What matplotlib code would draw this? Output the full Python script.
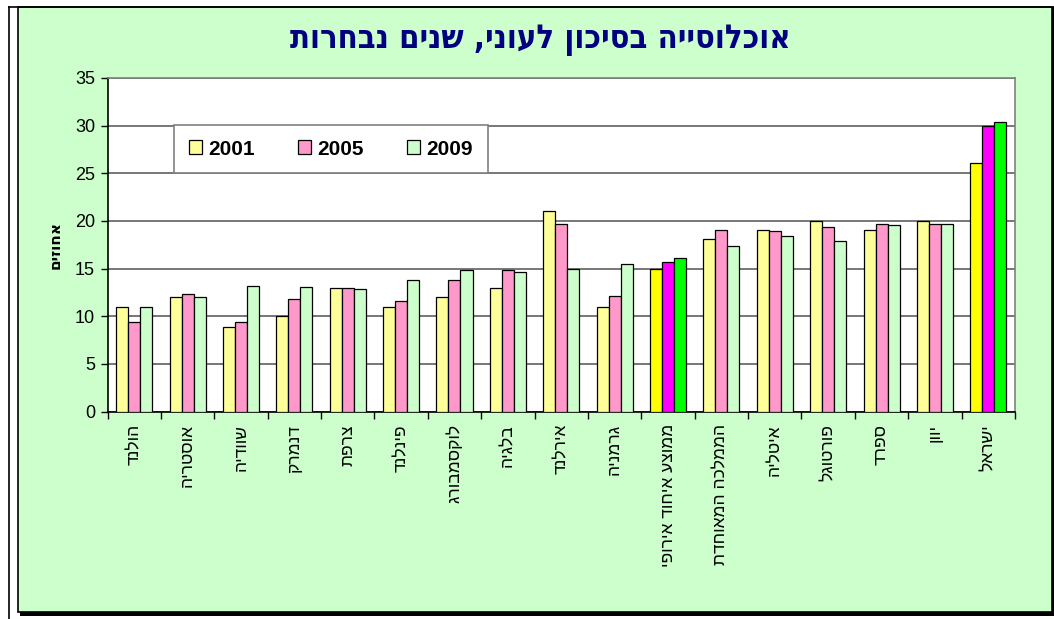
import matplotlib
matplotlib.use("Agg")
import matplotlib.pyplot as plt
from matplotlib.patches import Rectangle, Patch
from matplotlib.lines import Line2D
import numpy as np

plt.rcParams['font.family'] = ['Liberation Sans', 'DejaVu Sans']

title = "אוכלוסייה בסיכון לעוני, שנים נבחרות"
ylabel = "אחוזים"
categories = ["הולנד", "אוסטריה", "שוודיה", "דנמרק", "צרפת", "פינלנד", "לוקסמבורג",
              "בלגיה", "אירלנד", "גרמניה", "ממוצע איחוד אירופי", "הממלכה המאוחדת",
              "איטליה", "פורטוגל", "ספרד", "יוון", "ישראל"]
years = ["2001", "2005", "2009"]
v2001 = [11.0, 12.0, 8.9, 10.0, 13.0, 11.0, 12.0, 13.0, 21.0, 11.0, 15.0, 18.1, 19.1, 20.0, 19.1, 20.0, 26.1]
v2005 = [9.4, 12.3, 9.4, 11.8, 13.0, 11.6, 13.8, 14.9, 19.7, 12.1, 15.7, 19.1, 18.9, 19.4, 19.7, 19.7, 30.0]
v2009 = [11.0, 12.0, 13.2, 13.1, 12.9, 13.8, 14.9, 14.6, 15.0, 15.5, 16.1, 17.4, 18.4, 17.9, 19.6, 19.7, 30.4]
yticks = [0, 5, 10, 15, 20, 25, 30, 35]

def vis(s):
    return s[::-1]

W, H = 1054, 619
fig = plt.figure(figsize=(W / 100, H / 100), dpi=100, facecolor='white')

def fx(x):
    return x / W

def fy(y):
    return 1 - y / H

# frame
fig.patches.append(Rectangle((fx(20), fy(616)), fx(1034), 609 / H, transform=fig.transFigure,
                             facecolor='black', edgecolor='none', zorder=-3))
fig.patches.append(Rectangle((fx(17.5), fy(612)), fx(1034), 605 / H, transform=fig.transFigure,
                             facecolor='#CCFFCC', edgecolor='black', linewidth=1.2, zorder=-2))
fig.lines.append(Line2D([fx(8.5), fx(8.5)], [fy(6.5), fy(619)], transform=fig.transFigure,
                        color='black', linewidth=1.2, zorder=-1))
fig.lines.append(Line2D([fx(8.5), fx(1054)], [fy(6.5), fy(6.5)], transform=fig.transFigure,
                        color='black', linewidth=1.2, zorder=-1))

L, R, T, B = 107.5, 1015, 78, 411.5
ax = fig.add_axes([fx(L), fy(B), fx(R - L), (B - T) / H])
ax.set_facecolor('white')

base_colors = ['#FFFF99', '#FF99CC', '#CCFFCC']
hi_colors = ['#FFFF00', '#FF00FF', '#00FF00']
highlight = {"ממוצע איחוד אירופי", "ישראל"}

x = np.arange(len(categories))
w = 0.225
for k, vals in enumerate([v2001, v2005, v2009]):
    cols = [hi_colors[k] if c in highlight else base_colors[k] for c in categories]
    ax.bar(x + (k - 1) * w, vals, width=w, color=cols, edgecolor='black', linewidth=0.9, zorder=3)

ax.set_xlim(-0.5, len(categories) - 0.5)
ax.set_ylim(0, 35)
ax.set_yticks(yticks)
ax.set_yticklabels([str(t) for t in yticks], fontsize=13)
ax.yaxis.grid(True, color='#606060', linewidth=1.2, zorder=0)
ax.set_axisbelow(True)

ax.set_xticks(x)
ax.set_xticklabels([vis(c) for c in categories], rotation=90, fontsize=12.5, va='top', ha='center')
ax.tick_params(axis='x', which='major', length=0, pad=9)
ax.set_xticks(np.arange(len(categories) + 1) - 0.5, minor=True)
ax.tick_params(axis='x', which='minor', length=5, width=1, direction='out', color='black')
ax.tick_params(axis='y', length=5, width=1, direction='out', pad=4)

for s in ['left', 'bottom']:
    ax.spines[s].set_color('black')
    ax.spines[s].set_linewidth(1.2)
for s in ['top', 'right']:
    ax.spines[s].set_color('#808080')
    ax.spines[s].set_linewidth(1.2)

fig.text(fx(540), fy(39), vis(title), ha='center', va='center', fontsize=23.5,
         fontweight='bold', color='#000080', family=['DejaVu Sans'], stretch='condensed')
fig.text(fx(55), fy(245), vis(ylabel), ha='center', va='center', rotation=90,
         fontsize=11, fontweight='bold', family=['DejaVu Sans'])

handles = [Patch(facecolor=c, edgecolor='black', linewidth=0.9) for c in base_colors]
leg = ax.legend(handles, years, loc='upper left',
                bbox_to_anchor=(fx(174), fy(125)), bbox_transform=fig.transFigure,
                ncol=3, frameon=True, fancybox=False, edgecolor='#808080', facecolor='white',
                framealpha=1, prop={'weight': 'bold', 'size': 15}, handlelength=0.65,
                handleheight=0.65, handletextpad=0.3, columnspacing=2.05, borderpad=0.7,
                borderaxespad=0)
leg.get_frame().set_linewidth(1.2)
leg.set_zorder(10)

fig.savefig('out.png', dpi=100, facecolor='white')
